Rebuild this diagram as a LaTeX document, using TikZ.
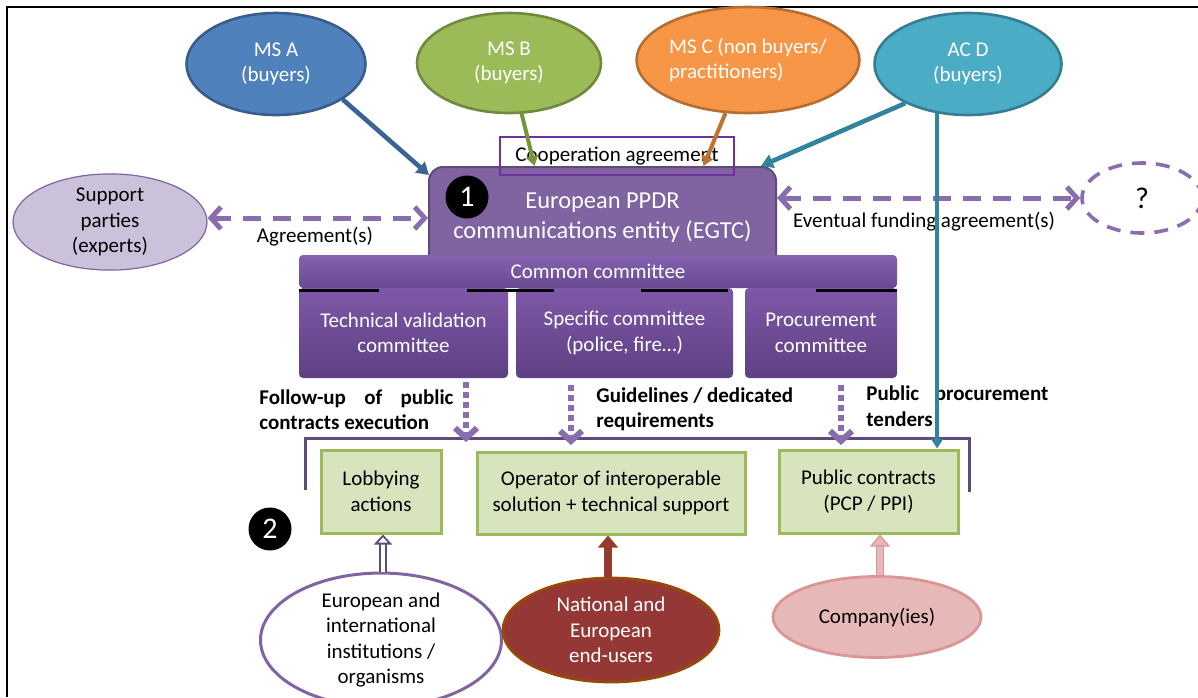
\documentclass[tikz,border=0pt]{standalone}
\usepackage{fontspec}
\setmainfont{Carlito}
\usetikzlibrary{shapes.geometric,arrows.meta,calc}
\definecolor{msaF}{HTML}{4F81BD}\definecolor{msaB}{HTML}{385D8A}\definecolor{msaL}{HTML}{3B6496}
\definecolor{msbF}{HTML}{9BBB59}\definecolor{msbB}{HTML}{71893F}\definecolor{msbL}{HTML}{77933C}
\definecolor{mscF}{HTML}{F79646}\definecolor{mscB}{HTML}{B66D31}\definecolor{mscL}{HTML}{BE7330}
\definecolor{acdF}{HTML}{4BACC6}\definecolor{acdB}{HTML}{357D91}\definecolor{acdL}{HTML}{31849B}
\definecolor{egtcF}{HTML}{8064A2}\definecolor{egtcB}{HTML}{5F4A7A}
\definecolor{comT}{HTML}{8561AF}\definecolor{comB}{HTML}{6A4A93}
\definecolor{subT}{HTML}{7E58A8}\definecolor{subB}{HTML}{5E4083}
\definecolor{supF}{HTML}{CCC1DA}\definecolor{dashC}{HTML}{8A6DAE}
\definecolor{coopB}{HTML}{7030A0}\definecolor{brC}{HTML}{604A7B}
\definecolor{grF}{HTML}{D7E4BD}\definecolor{grB}{HTML}{9BBB59}
\definecolor{euF}{HTML}{953735}\definecolor{euB}{HTML}{984807}
\definecolor{coF}{HTML}{E6B9B8}\definecolor{coB}{HTML}{D99694}
\begin{document}
\begin{tikzpicture}[x=0.5pt,y=-0.5pt,
  font=\fontsize{10.5}{12.75}\selectfont,
  topell/.style={ellipse, inner sep=0pt, line width=1.3pt, text=white, align=center},
  subbox/.style={rectangle, inner sep=0pt, top color=subT, bottom color=subB, text=white, align=center, minimum height=45pt, rounded corners=2pt},
  grbox/.style={rectangle, inner sep=0pt, fill=grF, draw=grB, line width=1.5pt, align=center},
  numc/.style={circle, fill=black, text=white, inner sep=0pt, minimum size=21.5pt, font=\fontsize{15}{15}\selectfont},
  lbl/.style={inner sep=0pt, font=\fontsize{10.5}{12.75}\selectfont\bfseries, align=left, anchor=west},
  plainlbl/.style={inner sep=0pt},
  dashh/.style={draw=dashC, line width=2.5pt, dash pattern=on 9pt off 6pt, {Straight Barb[length=5pt,width=11pt]}-{Straight Barb[length=5pt,width=11pt]}},
  dotv/.style={draw=dashC, line width=3pt, dash pattern=on 3pt off 2pt, -{Straight Barb[length=5pt,width=11pt]}},
  feed/.style={line width=2.3pt, -{Triangle[length=6pt,width=7pt]}},
]
\useasboundingbox (0,0) rectangle (1198,697);
\draw[line width=1pt] (7,697) -- (7,7) -- (1198,7);

% top ellipses
\node[topell, fill=msaF, draw=msaB, minimum width=89.5pt, minimum height=51pt] (msa) at (276,64) {MS A\\(buyers)};
\node[topell, fill=msbF, draw=msbB, minimum width=92pt, minimum height=50pt] (msb) at (509,63) {MS B\\(buyers)};
\node[topell, fill=mscF, draw=mscB, minimum width=93.5pt, minimum height=53pt, align=left] (msc) at (748,60) {MS C (non buyers/\\practitioners)};
\node[topell, fill=acdF, draw=acdB, minimum width=93.5pt, minimum height=51pt] (acd) at (968,64) {AC D\\(buyers)};

% entity
\node[rectangle, rounded corners=7pt, fill=egtcF, draw=egtcB, line width=1pt, minimum width=173.5pt, minimum height=51pt, inner sep=0pt, text=white, align=center, font=\fontsize{12.2}{15}\selectfont] (egtc) at (602.5,218) {European PPDR\\communications entity (EGTC)};
\node[draw=coopB, line width=0.7pt, minimum width=117pt, minimum height=19pt, inner sep=0pt] (coop) at (617,156) {Cooperation agreement};
\node[numc] (n1) at (467,197) {1};

\node[ellipse, fill=supF, draw=egtcF, line width=0.6pt, minimum width=97pt, minimum height=43pt, inner sep=0pt, align=center] (sup) at (110,222) {Support\\parties\\(experts)};
\node[ellipse, draw=dashC, line width=1.8pt, dash pattern=on 7pt off 5pt, minimum width=60pt, minimum height=35pt, inner sep=0pt, font=\fontsize{15}{15}\selectfont] (q) at (1142,198) {?};

% committees
\node[rectangle, inner sep=0pt, top color=comT, bottom color=comB, text=white, minimum width=299pt, minimum height=16.5pt, rounded corners=2pt] (common) at (598,271.5) {Common committee};
\node[subbox, minimum width=104.5pt] (tech) at (403.5,333) {Technical validation\\committee};
\node[subbox, minimum width=108.5pt] (spec) at (624.5,333) {Specific committee\\(police, fire\ldots)};
\node[subbox, minimum width=76pt] (proc) at (821,333) {Procurement\\committee};
\fill[black] (299,289) rectangle (379,292);
\fill[black] (467,289) rectangle (554,292);
\fill[black] (641,289) rectangle (728,292);
\fill[black] (816,289) rectangle (897,292);

% labels
\node[plainlbl] (lagr) at (315,237) {Agreement(s)};
\node[plainlbl] (lfund) at (924,222) {Eventual funding agreement(s)};
\node[lbl] (lfol) at (259,409.5) {\makebox[97pt][s]{Follow-up of public}\\contracts execution};
\node[lbl] (lgui) at (596,409.5) {Guidelines / dedicated\\requirements};
\node[lbl] (lpub) at (866,406) {\makebox[91pt][s]{Public procurement}\\tenders};

% bracket
\coordinate (brL) at (305,490);
\coordinate (brTL) at (305,438);
\coordinate (brTR) at (969,438);
\coordinate (brR) at (969,492);
\draw[brC, line width=1.5pt] (brL) -- (brTL) -- (brTR) -- (brR);

% green boxes
\node[grbox, minimum width=60pt, minimum height=41.5pt] (lobby) at (381,491.5) {Lobbying\\actions};
\node[grbox, minimum width=134pt, minimum height=41pt] (oper) at (611,493) {Operator of interoperable\\solution + technical support};
\node[grbox, minimum width=89.5pt, minimum height=41.5pt] (pub) at (868.5,491.5) {Public contracts\\(PCP / PPI)};
\node[numc] (n2) at (270,529) {2};

% bottom ellipses
\node[ellipse, fill=white, draw=egtcF, line width=1.5pt, minimum width=120.5pt, minimum height=62pt, inner sep=0pt, align=center] (inst) at (381,640) {European and\\international\\institutions /\\organisms};
\node[ellipse, fill=euF, draw=euB, line width=1.4pt, minimum width=108pt, minimum height=52pt, inner sep=0pt, align=center, text=white] (endu) at (611,630) {National and\\European\\end-users};
\node[ellipse, fill=coF, draw=coB, line width=1.4pt, minimum width=104pt, minimum height=40.5pt, inner sep=0pt] (comp) at (877,617) {Company(ies)};

% connectors
\draw[feed, msaL] (msa.-28) -- ([shift={(1,9)}]egtc.north west);
\draw[msbL, line width=2pt, -{Triangle[length=5pt,width=6pt]}] (msb.-76) -- ([xshift=-34pt]egtc.north);
\draw[mscL, line width=2pt, -{Triangle[length=5pt,width=6pt]}] (msc.-113) -- ([xshift=50.5pt]egtc.north);
\draw[feed, acdL] (acd.-148) -- ([xshift=-8pt]egtc.north east);

\draw[dashh] ([yshift=2pt]sup.east) -- ([yshift=2pt]sup.east -| egtc.west);
\draw[dashh] (q.west -| egtc.east) -- (q.west);

\draw[dotv] ([shift={(62.5,4)}]tech.south) -- ([shift={(62.5,4)}]tech.south |- brTL);
\draw[dotv] ([shift={(-53.5,7)}]spec.south) -- ([shift={(-53.5,7)}]spec.south |- brTL);
\draw[dotv] ([shift={(20,7)}]proc.south) -- ([shift={(20,7)}]proc.south |- brTL);

\draw[acdL, line width=2.2pt, -{Triangle[length=5pt,width=6pt]}] (acd.-122) -- (acd.-122 |- pub.north);

\draw[draw=brC, line width=0.9pt, double=white, double distance=2pt, -{Triangle[open,length=5pt,width=9pt,fill=white]}] ([xshift=1pt]inst.north) -- ([xshift=1pt]inst.north |- lobby.south);
\draw[draw=euB!60!euF, line width=0.6pt, double=euF, double distance=3pt, -{Triangle[length=6pt,width=10pt,fill=euF]}] ([xshift=-1.5pt]endu.north) -- ([xshift=-1.5pt]endu.north |- oper.south);
\draw[draw=coB, line width=0.6pt, double=coF, double distance=3pt, -{Triangle[length=6pt,width=10pt,fill=coF]}] ([xshift=1.5pt]comp.north) -- ([xshift=1.5pt]comp.north |- pub.south);
\end{tikzpicture}
\end{document}
